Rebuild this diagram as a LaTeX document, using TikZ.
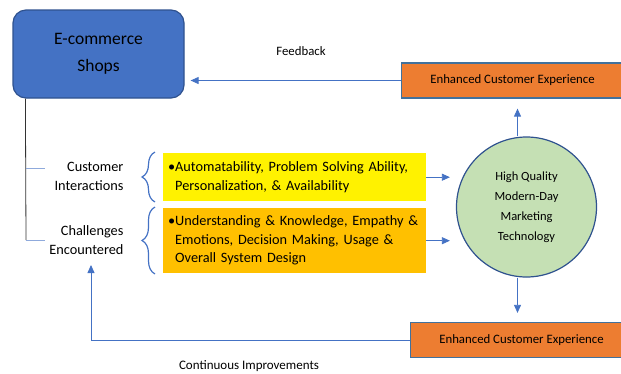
\documentclass[tikz,border=0pt]{standalone}
\usepackage{fontspec}
\setmainfont{Carlito}
\usepackage{tikz}
\usetikzlibrary{shapes, arrows.meta, positioning, decorations.pathreplacing}

\definecolor{shopblue}{HTML}{4472C4}
\definecolor{edgeblue}{HTML}{2F528F}
\definecolor{arrowblue}{HTML}{4472C4}
\definecolor{lineblue}{HTML}{8FAADC}
\definecolor{expfill}{HTML}{ED7D31}
\definecolor{expedge}{HTML}{41719C}
\definecolor{techfill}{HTML}{C5E0B4}
\definecolor{gold}{HTML}{FFC000}

\tikzset{
    exbox/.style={draw=expedge, line width=1.2pt, fill=expfill, minimum width=222pt, minimum height=35pt, font=\fontsize{12.8}{14}\selectfont},
    listbox/.style={anchor=north west, align=left, inner xsep=12pt, text width=239pt, minimum width=263pt, font=\fontsize{14.3}{18.5}\selectfont},
    sidelabel/.style={anchor=east, align=right, font=\fontsize{14.3}{19}\selectfont},
    arrow/.style={-{Triangle[length=8pt, width=7pt]}, draw=arrowblue, line width=0.8pt},
    branch/.style={draw=lineblue, line width=0.8pt},
    bracket/.style={draw=arrowblue, line width=1.2pt, decorate, decoration={brace, amplitude=13pt, aspect=0.5}}
}

\begin{document}
\begin{tikzpicture}[x=1pt, y=-1pt]
    \clip (0,0) rectangle (621,373);

    % Nodes
    \node (shops) [draw=edgeblue, line width=1.2pt, fill=shopblue, rounded corners=13pt, minimum width=171pt, minimum height=88pt, align=center, font=\fontsize{17.5}{27}\selectfont] at (98.5,54) {E-commerce\\Shops};
    \node (topexp) [exbox] at (512.5,80.5) {Enhanced Customer Experience};
    \node (botexp) [exbox] at (521.5,340) {Enhanced Customer Experience};
    \node (tech) [circle, draw=edgeblue, line width=1.2pt, fill=techfill, minimum size=140pt, align=center, font=\fontsize{12.5}{20}\selectfont] at (526.5,207) {High Quality\\Modern-Day\\Marketing\\Technology};

    \node (auto) [listbox, fill=yellow, minimum height=48pt] at (163,153) {\mbox{\llap{\textbullet}Automatability, Problem Solving Ability,}\\\mbox{Personalization, \& Availability}};
    \node (under) [listbox, fill=gold, minimum height=65pt] at (163,208) {\mbox{\llap{\textbullet}Understanding \& Knowledge, Empathy \&}\\\mbox{Emotions, Decision Making, Usage \&}\\\mbox{Overall System Design}};

    \node (cust) [sidelabel] at (127,176.5) {Customer\\Interactions};
    \node (chal) [sidelabel] at (127,240.5) {Challenges\\Encountered};

    \node (feed) [font=\fontsize{12.8}{14}\selectfont] at (301,51) {Feedback};
    \node (cont) [font=\fontsize{13}{14}\selectfont] at (249,366) {Continuous Improvements};

    \coordinate (trunk) at (26,240);
    \coordinate (loop) at (91,265);

    % Edges
    \draw[arrow, shorten >=6pt] (topexp.west) -- (topexp.west -| shops.east);
    \draw[arrow] (botexp.west) -| (loop);
    \draw[arrow, shorten >=6pt] (auto.east) -- (auto.east -| tech.west);
    \draw[arrow, shorten >=6pt] (under.east) -- (under.east -| tech.west);
    \draw[arrow, shorten >=10pt] ([xshift=-9pt]tech.north) -- ([xshift=-9pt]tech.north |- topexp.south);
    \draw[arrow, shorten >=9pt] ([xshift=-9pt]tech.south) -- ([xshift=-9pt]tech.south |- botexp.north);

    % Tree on the left
    \draw[black!80, line width=0.8pt] ([xshift=13pt]shops.south west) -- (trunk);
    \draw[branch] (26,168) -- (45,168);
    \draw[branch] (trunk) -- (45,240);

    % Braces
    \draw[bracket] (155,202) -- (155,152);
    \draw[bracket] (155,274) -- (155,207);
\end{tikzpicture}
\end{document}
